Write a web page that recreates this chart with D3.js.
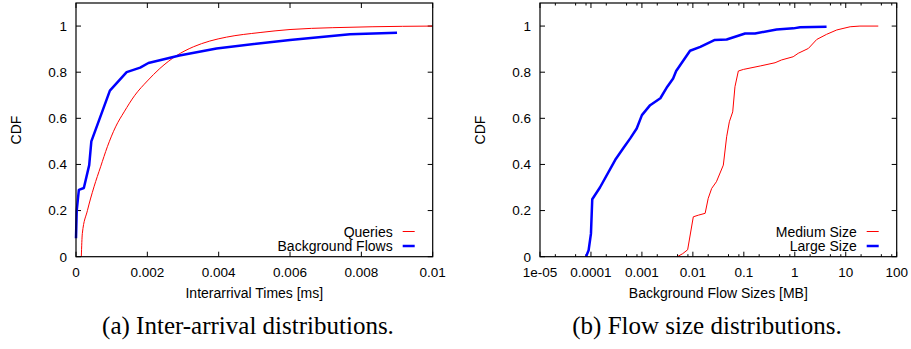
<!DOCTYPE html>
<meta charset="utf-8">
<script src="https://d3js.org/d3.v7.min.js"></script>
<style>
  body { margin: 0; background: #fff; }
  text { font-family: "Liberation Sans", Arial, sans-serif; fill: #000; }
  .caption { font-family: "Liberation Serif", "Times New Roman", serif; }
</style>
<div id="chart"></div>
<script>

// ---- data ----
// (a) inter-arrival times [ms]
var queriesX = [0.000149, 0.000177, 0.00032, 0.000505, 0.00069, 0.00088, 0.00111, 0.00135, 0.00165, 0.002, 0.00235, 0.00282, 0.00329, 0.00375, 0.00422, 0.00516, 0.006, 0.0072, 0.0083, 0.01];
var queriesY = [0, 0.10, 0.20, 0.303, 0.39, 0.477, 0.563, 0.628, 0.70, 0.762, 0.816, 0.872, 0.91, 0.935, 0.952, 0.972, 0.985, 0.993, 0.997, 1.0];
var bgFlowsX = [0, 0.00002, 0.00008, 0.00022, 0.00037, 0.00043, 0.00095, 0.00142, 0.0018, 0.00203, 0.0029, 0.00394, 0.006, 0.00768, 0.009];
var bgFlowsY = [0.08, 0.20, 0.29, 0.298, 0.397, 0.50, 0.72, 0.80, 0.82, 0.84, 0.872, 0.903, 0.94, 0.964, 0.971];

// (b) background flow sizes [MB]
var mediumX = [0.00495, 0.0063, 0.0079, 0.0102, 0.0128, 0.0174, 0.020, 0.0234, 0.029, 0.0396, 0.046, 0.052, 0.0605, 0.067, 0.078, 0.098, 0.21, 0.41, 0.55, 0.93, 1.17, 1.85, 2.7, 4.2, 6.65, 12.2, 19, 43.5];
var mediumY = [0, 0.013, 0.03, 0.173, 0.18, 0.188, 0.253, 0.296, 0.325, 0.397, 0.52, 0.585, 0.628, 0.737, 0.805, 0.812, 0.827, 0.841, 0.853, 0.867, 0.882, 0.903, 0.942, 0.964, 0.983, 0.997, 1.0, 1.0];
var largeX = [0.00008, 0.00009, 0.0001, 0.000106, 0.00015, 0.0003, 0.00043, 0.00059, 0.00079, 0.001, 0.00145, 0.0023, 0.00315, 0.0041, 0.0047, 0.0088, 0.014, 0.027, 0.046, 0.106, 0.166, 0.44, 0.94, 1.27, 4.2];
var largeY = [0, 0.028, 0.10, 0.249, 0.30, 0.42, 0.47, 0.513, 0.556, 0.614, 0.657, 0.687, 0.737, 0.773, 0.805, 0.893, 0.91, 0.94, 0.942, 0.968, 0.968, 0.985, 0.99, 0.995, 0.997];

// tick labels
var yTicks = [0, 0.2, 0.4, 0.6, 0.8, 1];
var yTickLabels = ["0", "0.2", "0.4", "0.6", "0.8", "1"];
var linTicks = [0, 0.002, 0.004, 0.006, 0.008, 0.01];
var linTickLabels = ["0", "0.002", "0.004", "0.006", "0.008", "0.01"];
var logTicks = [1e-5, 1e-4, 1e-3, 1e-2, 1e-1, 1, 10, 100];
var logTickLabels = ["1e-05", "0.0001", "0.001", "0.01", "0.1", "1", "10", "100"];

var W = 911, H = 349;

var svg = d3.select("#chart")
  .append("svg")
    .attr("width", W)
    .attr("height", H);

function zip(xs, ys) {
  return xs.map(function(x, i) { return [x, ys[i]]; });
}

// draws one gnuplot-like panel
function panel(opt) {
  var x = opt.x, y = d3.scaleLinear().domain([0, 1.1]).range([256.7, 3]);
  var x0 = x.range()[0], x1 = x.range()[1];
  var y0 = y.range()[0], y1 = y.range()[1];
  var g = svg.append("g");

  // ticks (inward, on all four sides)
  yTicks.forEach(function(t) {
    g.append("line").attr("x1", x0).attr("x2", x0 + 5).attr("y1", y(t)).attr("y2", y(t))
      .attr("stroke", "#000");
    g.append("line").attr("x1", x1).attr("x2", x1 - 5).attr("y1", y(t)).attr("y2", y(t))
      .attr("stroke", "#000");
  });
  yTickLabels.forEach(function(l, i) {
    g.append("text").attr("x", x0 - 9).attr("y", y(yTicks[i]) + 4.8)
      .attr("text-anchor", "end").style("font-size", "13.5px").text(l);
  });
  opt.xTicks.forEach(function(t) {
    g.append("line").attr("x1", x(t)).attr("x2", x(t)).attr("y1", y0).attr("y2", y0 - 5)
      .attr("stroke", "#000");
    g.append("line").attr("x1", x(t)).attr("x2", x(t)).attr("y1", y1).attr("y2", y1 + 5)
      .attr("stroke", "#000");
  });
  (opt.minor || []).forEach(function(t) {
    g.append("line").attr("x1", x(t)).attr("x2", x(t)).attr("y1", y0).attr("y2", y0 - 2.5)
      .attr("stroke", "#000");
    g.append("line").attr("x1", x(t)).attr("x2", x(t)).attr("y1", y1).attr("y2", y1 + 2.5)
      .attr("stroke", "#000");
  });
  opt.xTickLabels.forEach(function(l, i) {
    g.append("text").attr("x", x(opt.xTicks[i])).attr("y", 277)
      .attr("text-anchor", "middle").style("font-size", "13.5px").text(l);
  });

  // lines
  opt.series.forEach(function(s) {
    var line = d3.line()
      .curve(s.smooth ? d3.curveMonotoneX : d3.curveLinear)
      .x(function(d) { return x(d[0]); })
      .y(function(d) { return y(d[1]); });
    g.append("path")
      .datum(zip(s.xs, s.ys))
      .attr("d", line)
      .attr("fill", "none")
      .attr("stroke", s.color)
      .attr("stroke-width", s.width)
      .attr("stroke-linejoin", "round");
  });

  // frame
  g.append("rect").attr("x", x0).attr("y", y1).attr("width", x1 - x0).attr("height", y0 - y1)
    .attr("fill", "none").attr("stroke", "#000").attr("stroke-width", 1.2);

  // legend
  opt.series.forEach(function(s, i) {
    var ly = 231.5 + i * 14.5;
    g.append("text").attr("x", x1 - 40).attr("y", ly + 5)
      .attr("text-anchor", "end").style("font-size", "14px").text(s.name);
    g.append("line").attr("x1", x1 - 30).attr("x2", x1 - 18).attr("y1", ly).attr("y2", ly)
      .attr("stroke", s.color).attr("stroke-width", s.width);
  });

  // axis titles
  g.append("text").attr("x", (x0 + x1) / 2).attr("y", 297.5)
    .attr("text-anchor", "middle").style("font-size", "14px").text(opt.xTitle);
  g.append("text")
    .attr("transform", "translate(" + (x0 - 55) + ",130) rotate(-90)")
    .attr("text-anchor", "middle").style("font-size", "14px").text("CDF");

  // caption
  svg.append("text").attr("class", "caption")
    .attr("x", opt.capX).attr("y", 334)
    .attr("text-anchor", "middle").style("font-size", "25px").text(opt.caption);
}

panel({
  x: d3.scaleLinear().domain([0, 0.01]).range([76, 432.7]),
  xTicks: linTicks,
  xTickLabels: linTickLabels,
  xTitle: "Interarrival Times [ms]",
  caption: "(a) Inter-arrival distributions.",
  capX: 248,
  series: [
    {name: "Queries", xs: queriesX, ys: queriesY, color: "#ff0000", width: 1, smooth: true},
    {name: "Background Flows", xs: bgFlowsX, ys: bgFlowsY, color: "#0000ff", width: 2.5}
  ]
});

var minorLog = [];
logTicks.slice(0, -1).forEach(function(t) {
  [2, 5, 8].forEach(function(m) { minorLog.push(t * m); });
});

panel({
  x: d3.scaleLog().domain([1e-5, 100]).range([540, 896.7]),
  xTicks: logTicks,
  xTickLabels: logTickLabels,
  minor: minorLog,
  xTitle: "Background Flow Sizes [MB]",
  caption: "(b) Flow size distributions.",
  capX: 707,
  series: [
    {name: "Medium Size", xs: mediumX, ys: mediumY, color: "#ff0000", width: 1},
    {name: "Large Size", xs: largeX, ys: largeY, color: "#0000ff", width: 2.5}
  ]
});

</script>
